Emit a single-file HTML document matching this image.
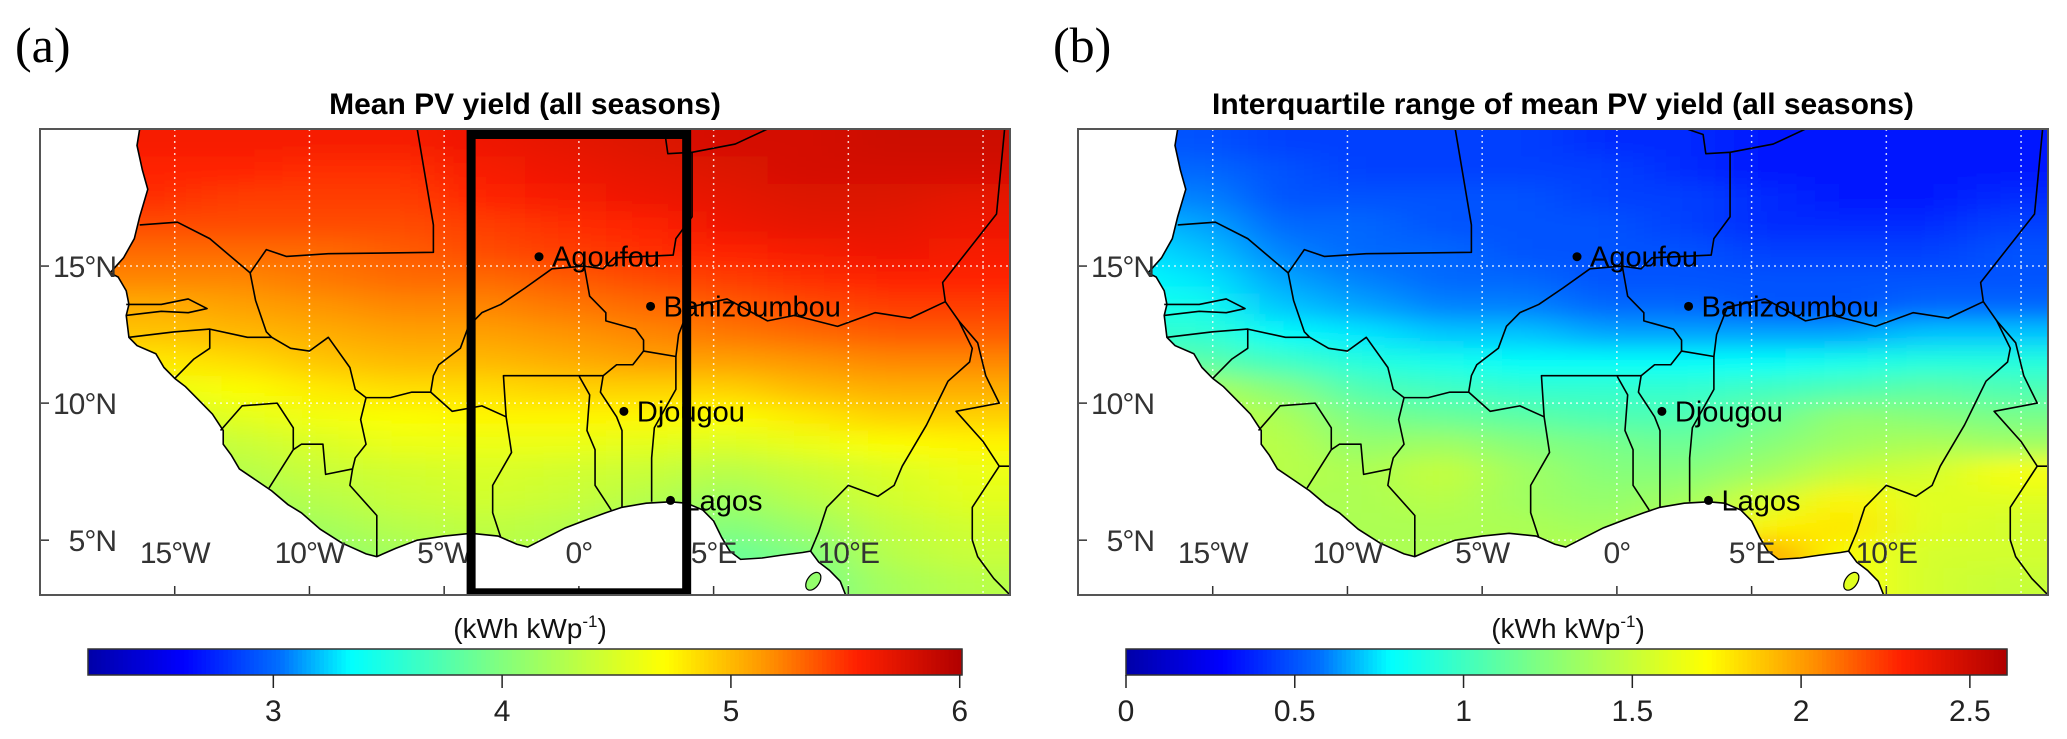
<!DOCTYPE html>
<html><head><meta charset="utf-8"><style>
html,body{margin:0;padding:0;background:#fff;}
svg{display:block;font-family:"Liberation Sans",sans-serif;}
</style></head><body>
<svg id="fig" width="2067" height="739" viewBox="0 0 2067 739" xmlns="http://www.w3.org/2000/svg">
<defs>
<filter id="blurA" filterUnits="userSpaceOnUse" x="-300" y="-300" width="2700" height="1300"><feGaussianBlur stdDeviation="30 11"/></filter>
<clipPath id="clipA"><rect x="40" y="129" width="970" height="466"/></clipPath>
<clipPath id="clipB"><rect x="1078" y="129" width="970" height="466"/></clipPath>
</defs>
</svg>
<script>
const lonCenters=[-18.5,-15.5,-12.5,-9.5,-6.5,-3.5,-0.5,2.5,5.5,8.5,11.5,14.5];
const latCenters=[19.5,18.5,17.5,16.5,15.5,14.5,13.5,12.5,11.5,10.5,9.5,8.5,7.5,6.5,5.5,4.5,3.5];
const meanYield=[
[5.6,5.6,5.6,5.6,5.6,5.65,5.7,5.75,5.8,5.8,5.85,5.85],
[5.55,5.55,5.55,5.5,5.5,5.6,5.65,5.7,5.75,5.8,5.8,5.8],
[5.5,5.5,5.45,5.45,5.45,5.55,5.6,5.65,5.7,5.75,5.75,5.7],
[5.4,5.4,5.4,5.4,5.4,5.45,5.5,5.55,5.65,5.7,5.7,5.65],
[5.3,5.3,5.3,5.3,5.35,5.4,5.45,5.5,5.55,5.6,5.65,5.6],
[5.2,5.2,5.2,5.25,5.3,5.3,5.35,5.4,5.45,5.5,5.55,5.55],
[5.05,5.05,5.1,5.15,5.2,5.2,5.25,5.3,5.35,5.4,5.45,5.45],
[4.95,4.95,5.0,5.05,5.1,5.1,5.15,5.2,5.25,5.3,5.35,5.35],
[4.8,4.8,4.85,4.95,5.0,5.0,5.05,5.1,5.1,5.15,5.2,5.2],
[4.6,4.6,4.7,4.8,4.85,4.85,4.9,4.9,4.9,5.0,5.05,5.05],
[4.45,4.45,4.55,4.65,4.7,4.75,4.75,4.75,4.7,4.8,4.9,4.9],
[4.3,4.3,4.4,4.5,4.6,4.6,4.6,4.55,4.5,4.6,4.7,4.75],
[4.2,4.2,4.3,4.4,4.45,4.5,4.45,4.4,4.3,4.4,4.5,4.6],
[4.1,4.1,4.2,4.3,4.4,4.45,4.4,4.3,4.15,4.3,4.45,4.55],
[4.0,4.0,4.1,4.2,4.3,4.35,4.3,4.15,4.0,4.15,4.35,4.45],
[4.0,4.0,4.05,4.1,4.2,4.3,4.25,4.1,3.85,4.0,4.3,4.4],
[4.0,4.0,4.0,4.05,4.1,4.2,4.2,4.0,3.85,3.95,4.2,4.3]];
const iqrYield=[
[0.5,0.5,0.45,0.45,0.45,0.45,0.4,0.4,0.35,0.35,0.35,0.35],
[0.55,0.55,0.5,0.45,0.45,0.45,0.45,0.4,0.35,0.35,0.35,0.35],
[0.6,0.6,0.5,0.5,0.5,0.5,0.45,0.45,0.4,0.35,0.35,0.4],
[0.7,0.65,0.55,0.55,0.5,0.5,0.5,0.45,0.4,0.4,0.4,0.45],
[0.75,0.7,0.6,0.55,0.55,0.5,0.5,0.5,0.45,0.45,0.45,0.5],
[0.8,0.75,0.65,0.6,0.55,0.55,0.5,0.5,0.5,0.5,0.5,0.5],
[0.85,0.85,0.7,0.65,0.6,0.6,0.55,0.55,0.5,0.5,0.55,0.55],
[0.95,0.95,0.8,0.75,0.7,0.7,0.65,0.65,0.65,0.65,0.7,0.7],
[1.1,1.1,1.0,0.9,0.85,0.8,0.8,0.8,0.8,0.85,0.9,0.9],
[1.4,1.4,1.25,1.05,1.0,0.95,0.95,0.95,1.0,1.05,1.1,1.05],
[1.5,1.5,1.4,1.2,1.15,1.1,1.05,1.05,1.15,1.3,1.25,1.2],
[1.45,1.45,1.45,1.3,1.35,1.25,1.2,1.15,1.25,1.35,1.4,1.35],
[1.4,1.4,1.45,1.4,1.5,1.35,1.25,1.25,1.35,1.5,1.55,1.7],
[1.4,1.4,1.4,1.4,1.45,1.35,1.3,1.35,1.55,1.75,1.6,1.6],
[1.4,1.4,1.4,1.4,1.4,1.4,1.35,1.45,1.75,1.8,1.6,1.55],
[1.4,1.4,1.4,1.4,1.4,1.4,1.45,1.6,2.0,1.7,1.55,1.55],
[1.4,1.4,1.4,1.4,1.4,1.4,1.45,1.6,2.0,1.7,1.55,1.5]];
const cbTicksA=[3,4,5,6];
const cbTicksB=[0,0.5,1,1.5,2,2.5];
const cbTickLabelsB=["0","0.5","1","1.5","2","2.5"];
const cityNames=["Agoufou","Banizoumbou","Djougou","Lagos"];
const cityLon=[-1.48,2.66,1.67,3.4];
const cityLat=[15.34,13.53,9.7,6.45];
const lonGrid=[-15,-10,-5,0,5,10,15];
const lonLabels=["15°W","10°W","5°W","0°","5°E","10°E",""];
const latGrid=[15,10,5];
const latLabels=["15°N","10°N","5°N"];

const coast=[[-16.3,20.0],[-16.4,19.4],[-16.2,18.5],[-16.0,17.8],[-16.3,16.8],[-16.5,16.0],[-16.9,15.3],[-17.4,14.75],[-17.1,14.6],[-16.8,14.1],[-16.7,13.6],[-16.8,13.2],[-16.7,12.4],[-16.4,12.1],[-15.7,11.8],[-15.4,11.3],[-15.0,10.9],[-14.6,10.6],[-14.0,10.0],[-13.6,9.6],[-13.2,9.0],[-13.2,8.5],[-12.9,8.1],[-12.6,7.6],[-12.0,7.2],[-11.4,6.8],[-10.8,6.3],[-10.3,6.0],[-9.6,5.4],[-8.8,4.9],[-7.9,4.5],[-7.5,4.4],[-6.8,4.7],[-6.0,5.0],[-5.0,5.15],[-4.0,5.25],[-3.0,5.15],[-2.3,4.85],[-1.9,4.75],[-1.2,5.1],[-0.5,5.45],[0.3,5.75],[1.0,6.0],[1.6,6.2],[2.5,6.35],[3.4,6.4],[4.0,6.35],[4.6,6.1],[5.0,5.7],[5.3,5.1],[5.6,4.6],[6.0,4.3],[6.8,4.35],[7.5,4.45],[8.3,4.55],[8.6,4.6],[8.9,4.2],[9.3,3.9],[9.7,3.5],[9.9,3.0]];
const borders=[
[[-16.3,16.5],[-14.9,16.6],[-13.7,16.0],[-12.2,14.75],[-11.6,15.6],[-10.85,15.35],[-9.3,15.45],[-5.4,15.5],[-5.4,16.5],[-6.0,20.0]],
[[-12.2,14.75],[-12.0,13.75],[-11.6,12.6],[-11.4,12.4]],
[[-16.8,13.6],[-15.5,13.6],[-14.5,13.8],[-13.8,13.45],[-14.5,13.3],[-15.5,13.35],[-16.8,13.2]],
[[-16.7,12.4],[-15,12.6],[-13.7,12.7],[-12.3,12.4],[-11.4,12.4]],
[[-13.7,12.7],[-13.7,12.0],[-14.3,11.6],[-15.0,10.9]],
[[-11.4,12.4],[-10.7,12.0],[-10,11.9],[-9.3,12.4],[-8.5,11.3],[-8.3,10.5],[-7.9,10.2]],
[[-7.9,10.2],[-8.1,9.4],[-7.9,8.5],[-8.3,8.0],[-8.4,7.6]],
[[-7.9,10.2],[-7,10.2],[-6.2,10.4],[-5.5,10.4],[-5.4,11.0],[-5.2,11.4],[-4.4,12.0],[-4.1,12.8],[-3.6,13.3],[-2.9,13.6],[-2.0,14.2],[-1.0,14.9],[0.2,15.0],[0.9,14.9],[1.3,15.3],[3.5,15.4],[3.6,16.0],[4.2,16.8],[4.2,19.15],[3.3,19.1],[3.2,19.8],[2.6,20.0]],
[[4.2,19.15],[5.8,19.45],[7.0,20.0]],
[[-5.5,10.4],[-4.7,9.7],[-3.6,9.9],[-2.7,9.5],[-2.8,11.0],[-1,11.0],[0,11.0],[0.9,11.0],[1.4,11.4],[2.0,11.4],[2.4,11.9],[2.4,12.3],[2.1,12.7],[1.0,13.0],[1.0,13.3],[0.4,13.9],[0.2,15.0]],
[[2.4,11.9],[3.6,11.7],[3.7,12.5],[4.1,13.5],[5.5,13.8],[7.0,13.0],[8,13.2],[9.6,12.8],[11,13.3],[12.3,13.1],[13.6,13.7]],
[[13.6,13.7],[13.5,14.4],[15.5,16.9],[15.8,20.0]],
[[13.6,13.7],[14.1,13.0],[14.6,12.0],[14.5,11.5],[13.7,10.8],[13.2,9.8],[12.9,9.2],[12.0,7.7],[11.7,7.0],[11.1,6.6],[10.0,7.0],[9.2,6.2],[8.9,5.3],[8.6,4.6]],
[[14.1,13.0],[14.8,12.2],[15.1,11.0],[15.6,10.0],[14.0,9.7],[15.0,8.6],[15.6,7.7],[16.0,7.7]],
[[15.6,7.7],[14.6,6.2],[14.6,5.0],[14.8,4.4],[15.4,3.6],[16,3.0]],
[[3.6,11.7],[3.6,10.5],[2.8,9.1],[2.7,8.0],[2.7,6.4]],
[[0.9,11.0],[0.8,10.4],[1.4,9.5],[1.6,9.0],[1.6,6.2]],
[[0.0,11.0],[0.4,10.3],[0.3,9.0],[0.6,8.3],[0.6,7.0],[1.2,6.1]],
[[-2.7,9.5],[-2.5,8.2],[-3.2,7.0],[-3.2,6.0],[-2.9,5.1]],
[[-8.4,7.6],[-8.5,7.0],[-7.5,5.9],[-7.5,4.4]],
[[-8.4,7.6],[-9.4,7.4],[-9.5,8.5],[-10.3,8.5],[-10.6,8.3],[-11.5,6.9]],
[[-13.3,9.0],[-12.5,9.9],[-11.2,10.0],[-10.6,9.1],[-10.6,8.3]]];

const NS="http://www.w3.org/2000/svg";
const svg=document.getElementById('fig');
const stops=[[0,[0,0,168]],[0.11,[0,0,255]],[0.22,[0,112,255]],[0.30,[0,255,255]],[0.47,[128,255,128]],[0.66,[255,255,0]],[0.78,[255,144,0]],[0.88,[255,32,0]],[1,[176,0,0]]];
function cmap(t){t=Math.max(0,Math.min(1,t));for(let i=1;i<stops.length;i++){if(t<=stops[i][0]){const a=stops[i-1],b=stops[i];const f=(t-a[0])/(b[0]-a[0]);const c=a[1].map((v,k)=>Math.round(v+(b[1][k]-v)*f));return `rgb(${c[0]},${c[1]},${c[2]})`;}}return 'rgb(176,0,0)';}
function el(tag,attrs,parent){const e=document.createElementNS(NS,tag);for(const k in attrs)e.setAttribute(k,attrs[k]);(parent||svg).appendChild(e);return e;}

function panel(x0,data,vmin,vmax,clipId,letter,title,drawBox,cbx0,cbx1,ticks,tickLabels){
  const W=970,H=466,y0=129;
  const X=lon=>x0+(lon+20)*W/36;
  const Y=lat=>y0+(20-lat)*H/17;
  const g=el('g',{'clip-path':`url(#${clipId})`});
  
  
  const hg=el('g',{filter:'url(#blurA)'},g);
  
  
  for(let i=0;i<latCenters.length;i++){for(let j=0;j<lonCenters.length;j++){
    let xa=X(lonCenters[j]-1.5),xb=X(lonCenters[j]+1.5),ya=Y(latCenters[i]+0.5),yb=Y(latCenters[i]-0.5);
    if(j===0)xa-=120; if(j===lonCenters.length-1)xb+=120; if(i===0)ya-=120; if(i===latCenters.length-1)yb+=120;
    const r=el('rect',{x:xa,y:ya,width:xb-xa+0.5,height:yb-ya+0.5,fill:cmap((data[i][j]-vmin)/(vmax-vmin))},hg);
    
    
  }}
  let pts=`${X(-21)},${Y(21)} ${X(-16.3)},${Y(21)} `+coast.map(p=>`${X(p[0])},${Y(p[1])}`).join(' ')+` ${X(9.9)},${Y(2)} ${X(-21)},${Y(2)}`;
  const oc=el('polygon',{points:pts,fill:'#fff'},g);
  
  
  const isl=el('ellipse',{cx:X(8.7),cy:Y(3.5),rx:6,ry:10,fill:cmap((data[15][7]-vmin)/(vmax-vmin)),stroke:'#000','stroke-width':1.2,transform:`rotate(35 ${X(8.7)} ${Y(3.5)})`},g);
  
  
  lonGrid.forEach(l=>{const ln=el('line',{x1:X(l),x2:X(l),y1:y0,y2:y0+H,stroke:'#fff','stroke-width':1.5,'stroke-dasharray':'2 4',opacity:0.8},g);
    
    });
  latGrid.forEach(l=>{const ln=el('line',{x1:x0,x2:x0+W,y1:Y(l),y2:Y(l),stroke:'#fff','stroke-width':1.5,'stroke-dasharray':'2 4',opacity:0.8},g);
    
    });
  const cl=el('polyline',{points:coast.map(p=>`${X(p[0])},${Y(p[1])}`).join(' '),fill:'none',stroke:'#000','stroke-width':1.6},g);
  
  
  borders.forEach(b=>{const bl=el('polyline',{points:b.map(p=>`${X(p[0])},${Y(p[1])}`).join(' '),fill:'none',stroke:'#000','stroke-width':1.6,'stroke-linejoin':'round'},g);
    
    });
  lonGrid.forEach((l,k)=>{if(!lonLabels[k])return;const t=el('text',{x:X(l),y:Y(5)+23,'font-size':30,fill:'#333','text-anchor':'middle','letter-spacing':'-1'},g);t.textContent=lonLabels[k];
    
    
    const tk=el('line',{x1:X(l),x2:X(l),y1:y0+H,y2:y0+H-9,stroke:'#333','stroke-width':1.5},g);
    
    });
  latGrid.forEach((l,k)=>{const t=el('text',{x:x0+76,y:Y(l)+11,'font-size':30,fill:'#333','text-anchor':'end','letter-spacing':'-1'},g);t.textContent=latLabels[k];
    
    
    const tk=el('line',{x1:x0,x2:x0+9,y1:Y(l),y2:Y(l),stroke:'#333','stroke-width':1.5},g);
    
    });
  cityNames.forEach((n,k)=>{const c=el('circle',{cx:X(cityLon[k]),cy:Y(cityLat[k]),r:4.5,fill:'#000'},g);
    
    
    const t=el('text',{x:X(cityLon[k])+13,y:Y(cityLat[k])+10,'font-size':29,fill:'#000'},g);t.textContent=n;
    
    });
  if(drawBox){const r=el('rect',{x:X(-4),y:Y(19.8),width:X(4)-X(-4),height:Y(3.08)-Y(19.8),fill:'none',stroke:'#000','stroke-width':9},g);
    
    }
  const fr=el('rect',{x:x0,y:y0,width:W,height:H,fill:'none',stroke:'#555','stroke-width':2});
  
  
  const lt=el('text',{x:x0-25,y:62,'font-size':50,'font-family':'Liberation Serif, serif',fill:'#000'});lt.textContent=`(${letter})`;
  
  
  const tt=el('text',{x:x0+W/2,y:114,'font-size':30,'font-weight':'bold','text-anchor':'middle',fill:'#000'});tt.textContent=title;
  
  
  const cy0=649,cy1=675,n=200;
  const cb=el('g',{});
  
  
  for(let i=0;i<n;i++){const v=vmin+(vmax-vmin)*(i+0.5)/n;const xr=cbx0+(cbx1-cbx0)*i/n;
    const r=el('rect',{x:xr,y:cy0,width:(cbx1-cbx0)/n+0.6,height:cy1-cy0,fill:cmap((v-vmin)/(vmax-vmin))},cb);
    
    }
  el('rect',{x:cbx0,y:cy0,width:cbx1-cbx0,height:cy1-cy0,fill:'none',stroke:'#333','stroke-width':1.5},cb);
  const CX=v=>cbx0+(v-vmin)/(vmax-vmin)*(cbx1-cbx0);
  ticks.forEach((v,k)=>{const tk=el('line',{x1:CX(v),x2:CX(v),y1:cy1,y2:cy1+13,stroke:'#222','stroke-width':1.5},cb);
    
    
    const t=el('text',{x:CX(v),y:721,'font-size':30,'text-anchor':'middle',fill:'#222'},cb);t.textContent=tickLabels[k];
    
    });
  const u=el('text',{x:x0+W/2+5,y:638,'font-size':28,'text-anchor':'middle',fill:'#111'});
  
  
  u.innerHTML='(kWh kWp<tspan font-size="17" dy="-11">-1</tspan><tspan dy="11">)</tspan>';
}
panel(40,meanYield,2.19,6.01,'clipA','a','Mean PV yield (all seasons)',true,88,962,cbTicksA,cbTicksA.map(String));
panel(1078,iqrYield,0,2.61,'clipB','b','Interquartile range of mean PV yield (all seasons)',false,1126,2007,cbTicksB,cbTickLabelsB);
</script>
</body></html>
